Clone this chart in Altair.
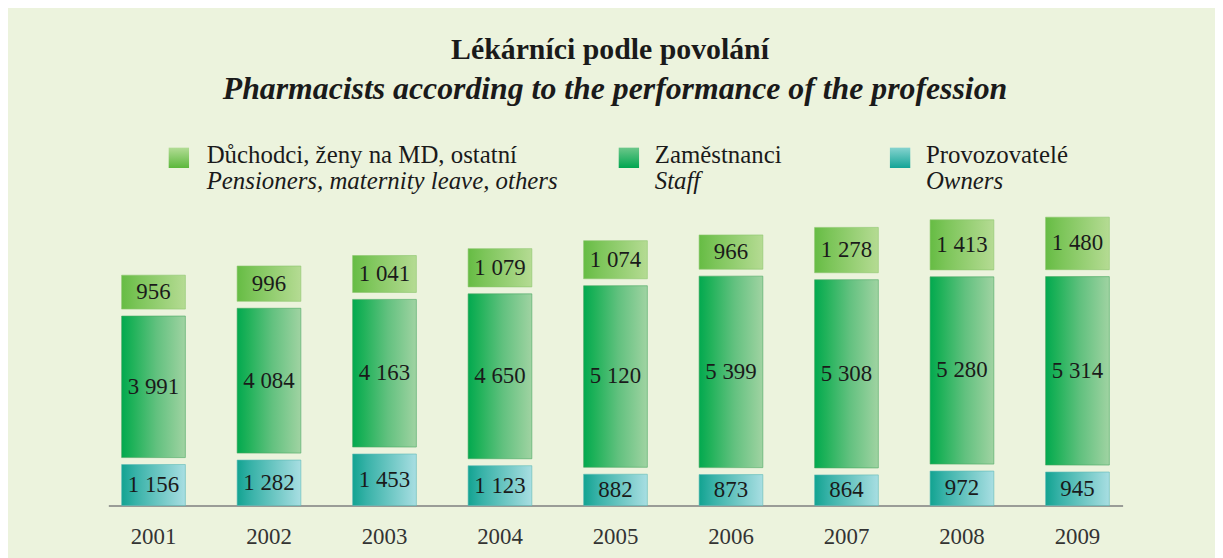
import altair as alt
import pandas as pd

# ---------------- data ----------------
years = ["2001", "2002", "2003", "2004", "2005", "2006", "2007", "2008", "2009"]
owners = [1156, 1282, 1453, 1123, 882, 873, 864, 972, 945]
staff = [3991, 4084, 4163, 4650, 5120, 5399, 5308, 5280, 5314]
pension = [956, 996, 1041, 1079, 1074, 966, 1278, 1413, 1480]

series_cz = ["Důchodci, ženy na MD, ostatní", "Zaměstnanci", "Provozovatelé"]
series_en = ["Pensioners, maternity leave, others", "Staff", "Owners"]
title_cz = "Lékárníci podle povolání"
title_en = "Pharmacists according to the performance of the profession"

df = pd.DataFrame({"year": years, "owners": owners, "staff": staff, "pension": pension})

# ---------------- style ----------------
FONT = "Liberation Serif, Cambria, serif"
TXT = "#1a1a1a"
BG = "#ecf3dd"
GAP = 7
Y_MAX = 8600


def grad(stops, vertical=False):
    return alt.Gradient(
        gradient="linear",
        x1=0, y1=0,
        x2=0 if vertical else 1,
        y2=1 if vertical else 0,
        stops=[alt.GradientStop(offset=o, color=c) for o, c in stops],
    )


g_pension = grad([(0, "#66bc44"), (0.25, "#7cc559"), (1, "#b5db93")])
g_staff = grad([(0, "#02a94f"), (0.18, "#20b25a"), (0.55, "#62c17f"), (1, "#a0d3a2")])
g_owners = grad([(0, "#12a391"), (0.22, "#38b2a8"), (1, "#a8dee2")])

s_pension = grad([(0, "#b2dc95"), (1, "#5cb83c")], vertical=True)
s_staff = grad([(0, "#6cc78a"), (1, "#00a650")], vertical=True)
s_owners = grad([(0, "#85d3cf"), (1, "#13a496")], vertical=True)

fmt = lambda f: f"replace(format(datum.{f}, ','), ',', ' ')"

base = alt.Chart(df).transform_calculate(
    s1="datum.owners + datum.staff",
    s2="datum.owners + datum.staff + datum.pension",
    m0="datum.owners / 2",
    m1="datum.owners + datum.staff / 2",
    m2="datum.owners + datum.staff + datum.pension / 2",
    l0=fmt("owners"),
    l1=fmt("staff"),
    l2=fmt("pension"),
)

xenc = alt.X(
    "year:N",
    scale=alt.Scale(paddingInner=0.448, paddingOuter=0.115),
    axis=alt.Axis(
        title=None, labelAngle=0, ticks=False, grid=False,
        domainColor="#7f7f7f", domainWidth=1.5,
        labelFont=FONT, labelFontSize=23, labelColor="#333333", labelPadding=20,
    ),
)
yscale = alt.Scale(domain=[0, Y_MAX], nice=False, zero=True)

bar_owners = base.mark_bar(fill=g_owners, stroke="#5fb9b6", strokeWidth=1, strokeOpacity=0.6).encode(
    x=xenc, y=alt.Y("owners:Q", scale=yscale, axis=None)
)
bar_staff = base.mark_bar(
    fill=g_staff, stroke="#4aa862", strokeWidth=1, strokeOpacity=0.6, yOffset=-GAP, y2Offset=-GAP
).encode(x=xenc, y=alt.Y("s1:Q", scale=yscale, axis=None), y2="owners:Q")
bar_pension = base.mark_bar(
    fill=g_pension, stroke="#8cc66c", strokeWidth=1, strokeOpacity=0.6, yOffset=-2 * GAP, y2Offset=-2 * GAP
).encode(x=xenc, y=alt.Y("s2:Q", scale=yscale, axis=None), y2="s1:Q")

tprops = dict(font=FONT, fontSize=23, color=TXT, baseline="middle", align="center")
lab_owners = base.mark_text(**tprops).encode(x=xenc, y=alt.Y("m0:Q", scale=yscale, axis=None), text="l0:N")
lab_staff = base.mark_text(dy=-GAP, **tprops).encode(x=xenc, y=alt.Y("m1:Q", scale=yscale, axis=None), text="l1:N")
lab_pension = base.mark_text(dy=-2 * GAP, **tprops).encode(x=xenc, y=alt.Y("m2:Q", scale=yscale, axis=None), text="l2:N")

bars = alt.layer(bar_owners, bar_staff, bar_pension, lab_owners, lab_staff, lab_pension)


def text_layer(txt, x, y, size, weight="normal", style="normal", align="left"):
    return alt.Chart(alt.Data(values=[{"t": txt}])).mark_text(
        font=FONT, fontSize=size, fontWeight=weight, fontStyle=style, color=TXT,
        align=align, baseline="alphabetic",
    ).encode(x=alt.value(x), y=alt.value(y), text="t:N")


titles = [
    text_layer(title_cz, 505, -142, 30, weight="bold", align="center"),
    text_layer(title_en, 510, -102, 32, weight="bold", style="italic", align="center"),
]

SYM_X = [71, 524, 797]
TXT_X = [99, 550, 823]
sym_fills = [s_pension, s_staff, s_owners]
legend = []
for i in range(3):
    legend.append(
        alt.Chart(alt.Data(values=[{"s": series_cz[i]}])).mark_square(
            size=420, fill=sym_fills[i], opacity=1, cornerRadius=2
        ).encode(x=alt.value(SYM_X[i]), y=alt.value(-43))
    )
    legend.append(text_layer(series_cz[i], TXT_X[i], -38, 25))
    legend.append(text_layer(series_en[i], TXT_X[i], -12, 25, style="italic"))

chart = alt.layer(bars, *titles, *legend).properties(
    width=1021,
    height=307,
    padding={"left": 101, "top": 192, "right": 93, "bottom": 51},
    autosize=alt.AutoSizeParams(type="none"),
    background=BG,
).configure_view(stroke=None)

chart.save("out.html", embed_options={"renderer": "svg", "actions": False})
